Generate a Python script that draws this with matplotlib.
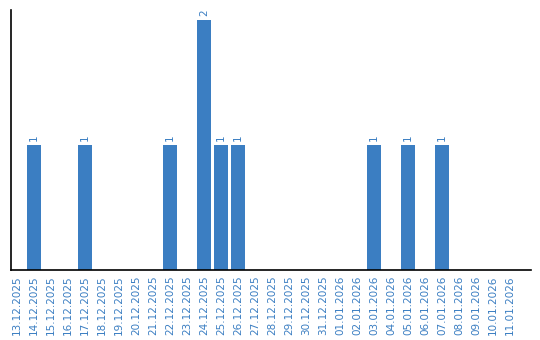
import matplotlib
matplotlib.use("Agg")
import matplotlib.pyplot as plt

dates = ["13.12.2025", "14.12.2025", "15.12.2025", "16.12.2025", "17.12.2025",
         "18.12.2025", "19.12.2025", "20.12.2025", "21.12.2025", "22.12.2025",
         "23.12.2025", "24.12.2025", "25.12.2025", "26.12.2025", "27.12.2025",
         "28.12.2025", "29.12.2025", "30.12.2025", "31.12.2025", "01.01.2026",
         "02.01.2026", "03.01.2026", "04.01.2026", "05.01.2026", "06.01.2026",
         "07.01.2026", "08.01.2026", "09.01.2026", "10.01.2026", "11.01.2026"]
counts = [0, 1, 0, 0, 1, 0, 0, 0, 0, 1, 0, 2, 1, 1, 0,
          0, 0, 0, 0, 0, 0, 1, 0, 1, 0, 1, 0, 0, 0, 0]

blue = "#3b7ec2"

fig = plt.figure(figsize=(5.4, 3.4), dpi=100)
ax = fig.add_axes([0.0204, 0.206, 0.963, 0.765])

x = list(range(len(dates)))
bars = ax.bar(x, counts, width=0.82, color=blue)
for xi, c in zip(x, counts):
    if c > 0:
        ax.text(xi, c + 0.03, str(c), rotation=90, ha="center", va="bottom",
                color=blue, fontsize=7.5)

ax.set_xlim(-0.35, 30.24)
ax.set_ylim(0, 2.08)
ax.set_xticks(x)
ax.set_xticklabels(dates, rotation=90, color=blue, fontsize=7.5)
ax.set_yticks([])
ax.tick_params(axis="x", length=0, pad=4)
ax.spines["top"].set_visible(False)
ax.spines["right"].set_visible(False)
ax.spines["left"].set_linewidth(1.2)
ax.spines["bottom"].set_linewidth(1.2)

fig.savefig("out.png", dpi=100)
